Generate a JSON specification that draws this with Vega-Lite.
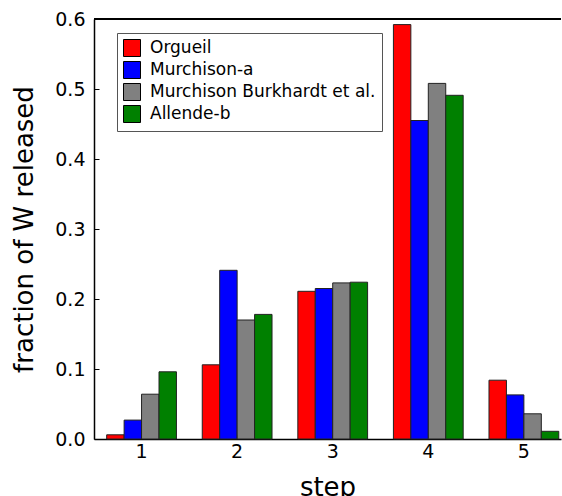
{
  "$schema": "https://vega.github.io/schema/vega-lite/v6.json",
  "width": 467,
  "height": 420,
  "autosize": {"type": "none"},
  "padding": {"left": 94, "top": 19, "right": 1, "bottom": 57},
  "config": {
    "view": {"stroke": null},
    "font": "DejaVu Sans",
    "axis": {
      "domainColor": "black",
      "domainWidth": 1.5,
      "tickColor": "black",
      "tickWidth": 1,
      "labelColor": "black",
      "titleColor": "black",
      "labelFont": "DejaVu Sans",
      "titleFont": "DejaVu Sans",
      "labelFontSize": 19,
      "titleFontSize": 26,
      "titleFontWeight": "normal",
      "grid": false
    },
    "legend": {
      "labelFont": "DejaVu Sans",
      "labelFontSize": 17,
      "labelColor": "black",
      "labelLimit": 0
    }
  },
  "data": {
    "values": [
      {"step": "1", "sample": "Orgueil", "value": 0.006},
      {"step": "1", "sample": "Murchison-a", "value": 0.027},
      {"step": "1", "sample": "Murchison Burkhardt et al.", "value": 0.064},
      {"step": "1", "sample": "Allende-b", "value": 0.096},
      {"step": "2", "sample": "Orgueil", "value": 0.106},
      {"step": "2", "sample": "Murchison-a", "value": 0.241},
      {"step": "2", "sample": "Murchison Burkhardt et al.", "value": 0.170},
      {"step": "2", "sample": "Allende-b", "value": 0.178},
      {"step": "3", "sample": "Orgueil", "value": 0.211},
      {"step": "3", "sample": "Murchison-a", "value": 0.215},
      {"step": "3", "sample": "Murchison Burkhardt et al.", "value": 0.223},
      {"step": "3", "sample": "Allende-b", "value": 0.224},
      {"step": "4", "sample": "Orgueil", "value": 0.592},
      {"step": "4", "sample": "Murchison-a", "value": 0.455},
      {"step": "4", "sample": "Murchison Burkhardt et al.", "value": 0.508},
      {"step": "4", "sample": "Allende-b", "value": 0.491},
      {"step": "5", "sample": "Orgueil", "value": 0.084},
      {"step": "5", "sample": "Murchison-a", "value": 0.063},
      {"step": "5", "sample": "Murchison Burkhardt et al.", "value": 0.036},
      {"step": "5", "sample": "Allende-b", "value": 0.011}
    ]
  },
  "layer": [
    {
      "mark": {"type": "bar", "stroke": "#222222", "strokeWidth": 1},
      "encoding": {
        "x": {
          "field": "step",
          "type": "ordinal",
          "scale": {"paddingInner": 0.27, "paddingOuter": 0.078, "align": 0.85},
          "axis": {
            "labelAngle": 0,
            "title": "step",
            "tickSize": -5,
            "labelPadding": 8,
            "titleY": 35,
            "titleBaseline": "top"
          }
        },
        "xOffset": {
          "field": "sample",
          "type": "nominal",
          "sort": ["Orgueil", "Murchison-a", "Murchison Burkhardt et al.", "Allende-b"],
          "scale": {"paddingInner": 0, "paddingOuter": 0}
        },
        "y": {
          "field": "value",
          "type": "quantitative",
          "scale": {"domain": [0, 0.6], "nice": false},
          "axis": {
            "values": [0, 0.1, 0.2, 0.3, 0.4, 0.5, 0.6],
            "format": ".1f",
            "title": "fraction of W released",
            "tickSize": -5,
            "labelPadding": 14,
            "titleX": -70,
            "titleBaseline": "middle"
          }
        },
        "color": {
          "field": "sample",
          "type": "nominal",
          "sort": ["Orgueil", "Murchison-a", "Murchison Burkhardt et al.", "Allende-b"],
          "scale": {
            "domain": ["Orgueil", "Murchison-a", "Murchison Burkhardt et al.", "Allende-b"],
            "range": ["#ff0000", "#0000ff", "#808080", "#008000"]
          },
          "legend": {
            "title": null,
            "orient": "none",
            "legendX": 23,
            "legendY": 14,
            "padding": 6,
            "strokeColor": "#555555",
            "fillColor": "white",
            "cornerRadius": 0,
            "symbolType": "square",
            "symbolSize": 289,
            "symbolStrokeColor": "black",
            "symbolStrokeWidth": 1,
            "symbolOpacity": 1,
            "labelOffset": 9,
            "rowPadding": 0
          }
        }
      }
    },
    {
      "mark": {"type": "rule", "color": "black", "strokeWidth": 1.5},
      "encoding": {"y": {"datum": 0.6}}
    }
  ]
}
